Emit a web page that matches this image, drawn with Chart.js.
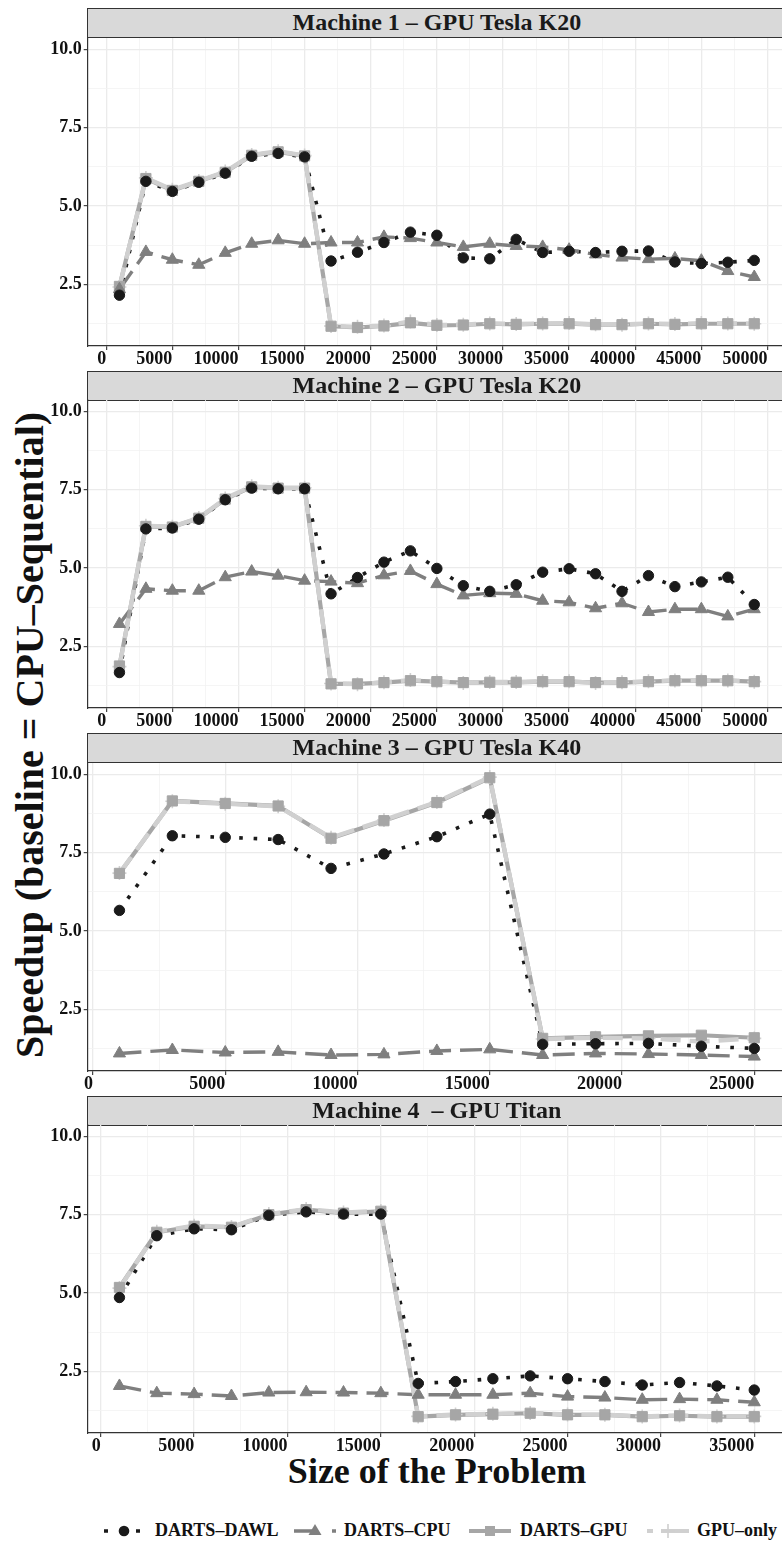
<!DOCTYPE html>
<html><head><meta charset="utf-8">
<script src="https://cdn.jsdelivr.net/npm/chart.js@4.4.1/dist/chart.umd.min.js"></script>
<style>
html,body{margin:0;padding:0;background:#fff;}
body{position:relative;width:782px;height:1543px;overflow:hidden;font-family:"Liberation Serif","Times New Roman",serif;font-weight:bold;color:#111;}
canvas.panel{position:absolute;left:0;}
.strip{position:absolute;left:87.2px;width:720px;height:29.8px;background:#D9D9D9;border:1.2px solid #333;box-sizing:border-box;}
.stext{position:absolute;left:87.7px;width:698.3px;height:29.4px;line-height:29.4px;text-align:center;font-size:24px;color:#1a1a1a;white-space:pre;}
.ytitle{position:absolute;left:-320px;top:715px;width:700px;height:40px;line-height:40px;text-align:center;font-size:40px;transform:rotate(-90deg);white-space:nowrap;}
.xtitle{position:absolute;left:137px;width:600px;top:1453px;height:36px;line-height:36px;text-align:center;font-size:36px;white-space:nowrap;}
.ltext{position:absolute;top:1520px;height:20px;line-height:20px;font-size:18px;white-space:nowrap;}
svg.key{position:absolute;top:1521px;}
</style>
</head><body>

<div class="ytitle">Speedup (baseline = CPU–Sequential)</div>
<div class="xtitle">Size of the Problem</div>

<svg class="key" style="left:104px" width="40" height="20"><line x1="0" y1="10" x2="40" y2="10" stroke="#1a1a1a" stroke-width="3.6" stroke-dasharray="4 12"/><circle cx="20" cy="10" r="5.3" fill="#1a1a1a"/></svg>
<div class="ltext" style="left:155px">DARTS–DAWL</div>
<svg class="key" style="left:294px" width="42" height="20"><line x1="0" y1="10" x2="42" y2="10" stroke="#7f7f7f" stroke-width="3.6" stroke-dasharray="22 16"/><polygon points="21,3 27.5,14 14.5,14" fill="#7f7f7f"/></svg>
<div class="ltext" style="left:344px">DARTS–CPU</div>
<svg class="key" style="left:469px" width="42" height="20"><line x1="0" y1="10" x2="42" y2="10" stroke="#a6a6a6" stroke-width="4"/><rect x="16" y="5" width="10" height="10" fill="#a6a6a6"/></svg>
<div class="ltext" style="left:520px">DARTS–GPU</div>
<svg class="key" style="left:647px" width="42" height="20"><line x1="0" y1="10" x2="42" y2="10" stroke="#d0d0d0" stroke-width="4" stroke-dasharray="6 8 40 0"/><line x1="21" y1="3" x2="21" y2="17" stroke="#cfcfcf" stroke-width="1.6"/><line x1="14" y1="10" x2="28" y2="10" stroke="#cfcfcf" stroke-width="1.6"/></svg>
<div class="ltext" style="left:697px">GPU–only</div>

<script>
// ---------------- data ----------------
const panelTitles = ["Machine 1 – GPU Tesla K20", "Machine 2 – GPU Tesla K20", "Machine 3 – GPU Tesla K40", "Machine 4  – GPU Titan"];
const seriesNames = ["DARTS–DAWL", "DARTS–CPU", "DARTS–GPU", "GPU–only"];

const sizesA = [1000,3000,5000,7000,9000,11000,13000,15000,17000,19000,21000,23000,25000,27000,29000,31000,33000,35000,37000,39000,41000,43000,45000,47000,49000];
const sizesB = [1000,3000,5000,7000,9000,11000,13000,15000,17000,19000,21000,23000,25000];
const sizesC = [1000,3000,5000,7000,9000,11000,13000,15000,17000,19000,21000,23000,25000,27000,29000,31000,33000,35000];

const m1Dawl    = [2.16,5.79,5.47,5.76,6.05,6.59,6.68,6.57,3.25,3.53,3.84,4.17,4.07,3.35,3.32,3.94,3.52,3.56,3.52,3.56,3.57,3.22,3.17,3.21,3.27];
const m1Cpu     = [2.35,3.54,3.29,3.13,3.51,3.80,3.91,3.80,3.84,3.84,4.02,3.98,3.84,3.70,3.80,3.73,3.70,3.61,3.46,3.36,3.31,3.33,3.26,2.93,2.74];
const m1Gpu     = [2.44,5.88,5.50,5.79,6.08,6.62,6.73,6.60,1.17,1.13,1.18,1.28,1.20,1.21,1.25,1.23,1.25,1.25,1.22,1.22,1.25,1.23,1.25,1.25,1.25];
const m1GpuOnly = [2.42,5.90,5.52,5.80,6.10,6.63,6.75,6.61,1.18,1.15,1.19,1.32,1.21,1.22,1.26,1.24,1.26,1.27,1.23,1.22,1.26,1.24,1.27,1.26,1.25];

const m2Dawl    = [1.67,6.25,6.28,6.56,7.18,7.55,7.53,7.53,4.18,4.70,5.19,5.55,4.99,4.44,4.26,4.47,4.87,4.98,4.82,4.26,4.76,4.41,4.56,4.71,3.84];
const m2Cpu     = [3.22,4.34,4.28,4.28,4.71,4.89,4.76,4.60,4.57,4.52,4.77,4.91,4.49,4.13,4.20,4.18,3.96,3.91,3.72,3.88,3.60,3.69,3.69,3.46,3.69];
const m2Gpu     = [1.88,6.33,6.31,6.59,7.20,7.59,7.55,7.55,1.31,1.31,1.35,1.41,1.38,1.35,1.36,1.36,1.38,1.38,1.35,1.35,1.38,1.41,1.41,1.41,1.38];
const m2GpuOnly = [1.86,6.35,6.32,6.60,7.22,7.61,7.56,7.56,1.32,1.30,1.36,1.43,1.39,1.34,1.37,1.37,1.39,1.39,1.34,1.36,1.39,1.42,1.42,1.42,1.38];

const m3Dawl    = [5.66,8.04,7.99,7.92,7.00,7.46,8.01,8.73,1.39,1.41,1.42,1.33,1.26];
const m3Cpu     = [1.10,1.21,1.13,1.15,1.05,1.07,1.18,1.23,1.05,1.10,1.08,1.05,1.00];
const m3Gpu     = [6.84,9.15,9.07,8.99,7.96,8.52,9.10,9.89,1.58,1.63,1.66,1.68,1.60];
const m3GpuOnly = [6.85,9.14,9.06,8.98,7.98,8.54,9.12,9.91,1.56,1.60,1.58,1.48,1.58];

const m4Dawl    = [4.86,6.83,7.05,7.02,7.48,7.59,7.52,7.52,2.12,2.18,2.27,2.36,2.27,2.18,2.07,2.15,2.04,1.91];
const m4Cpu     = [2.04,1.81,1.78,1.72,1.83,1.84,1.83,1.81,1.76,1.76,1.76,1.81,1.70,1.67,1.60,1.62,1.60,1.52];
const m4Gpu     = [5.18,6.94,7.13,7.10,7.50,7.66,7.55,7.61,1.06,1.12,1.14,1.17,1.12,1.12,1.06,1.09,1.06,1.06];
const m4GpuOnly = [5.16,6.96,7.15,7.11,7.52,7.68,7.57,7.62,1.07,1.13,1.15,1.18,1.13,1.12,1.07,1.10,1.07,1.07];

const yTicks = [1.25,2.5,3.75,5,6.25,7.5,8.75,10];
const yMajorLabels = ["2.5","5.0","7.5","10.0"];

// ---------------- layout ----------------
const panels = [
  {title: panelTitles[0], xs: sizesA, s:[m1Dawl,m1Cpu,m1Gpu,m1GpuOnly], xmin:-1400, xmax:51400, xmaxTick:50000, top:37.7},
  {title: panelTitles[1], xs: sizesA, s:[m2Dawl,m2Cpu,m2Gpu,m2GpuOnly], xmin:-1400, xmax:51400, xmaxTick:50000, top:400.2},
  {title: panelTitles[2], xs: sizesB, s:[m3Dawl,m3Cpu,m3Gpu,m3GpuOnly], xmin:-200, xmax:26200, xmaxTick:25000, top:762.7},
  {title: panelTitles[3], xs: sizesC, s:[m4Dawl,m4Cpu,m4Gpu,m4GpuOnly], xmin:-700, xmax:36700, xmaxTick:35000, top:1125.2}
];
const PLOT_H = 308, PAD_T = 10, XAX_H = 30, CW = 800;
const FONT = "'Liberation Serif','Times New Roman',serif";

const styles = [
  {color:'#1a1a1a', width:3.6, dash:[3.6,10.8], point:'circle', r:5.2, pw:1},
  {color:'#7f7f7f', width:3.4, dash:[22,9], point:'triangle', r:7, pw:1},
  {color:'#a6a6a6', width:4.2, dash:[], point:'rect', r:7.2, pw:1},
  {color:'#d0d0d0', width:4.4, dash:[20,9], point:'cross', r:7, pw:1.6}
];
const lineOrder = [8,7,6,5];
const pointOrder = [1,2,3,4];

function pts(xs, ys){ return xs.map((x,i)=>({x:x, y:ys[i]})); }
function isMajorY(v){ return Math.abs(v/2.5 - Math.round(v/2.5)) < 1e-6; }

panels.forEach((p, idx) => {
  const strip = document.createElement('div');
  strip.className = 'strip';
  strip.style.top = (p.top - 29.4) + 'px';
  document.body.appendChild(strip);
  const st = document.createElement('div');
  st.className = 'stext';
  st.style.top = (p.top - 29.4) + 'px';
  st.textContent = p.title;
  document.body.appendChild(st);

  const cv = document.createElement('canvas');
  cv.className = 'panel';
  cv.width = CW; cv.height = PAD_T + PLOT_H + XAX_H;
  cv.style.width = CW + 'px'; cv.style.height = (PAD_T + PLOT_H + XAX_H) + 'px';
  cv.style.top = (p.top - PAD_T) + 'px';
  document.body.appendChild(cv);

  const datasets = [];
  p.s.forEach((ys, k) => {
    const st = styles[k];
    datasets.push({
      label: seriesNames[k], data: pts(p.xs, ys), order: lineOrder[k],
      borderColor: st.color, borderWidth: st.width, borderDash: st.dash,
      borderCapStyle:'butt', borderJoinStyle:'round', tension:0, fill:false,
      pointRadius:0, pointHoverRadius:0, showLine:true
    });
  });
  p.s.forEach((ys, k) => {
    const st = styles[k];
    datasets.push({
      label: seriesNames[k] + ' points', data: pts(p.xs, ys), order: pointOrder[k],
      showLine:false, pointStyle: st.point, pointRadius: st.r, pointHoverRadius: st.r,
      pointBackgroundColor: st.color, pointBorderColor: st.color, pointBorderWidth: st.pw,
      borderColor: st.color, backgroundColor: st.color
    });
  });

  const xTickVals = [];
  for (let v = 0; v <= p.xmaxTick; v += 2500) xTickVals.push(v);

  new Chart(cv, {
    type: 'line',
    data: { datasets },
    options: {
      responsive:false, animation:false, devicePixelRatio:1,
      layout:{ padding:{top:PAD_T, right:CW-786, bottom:0, left:0} },
      plugins:{ legend:{display:false}, tooltip:{enabled:false} },
      events: [],
      scales:{
        x:{
          type:'linear', min:p.xmin, max:p.xmax,
          afterBuildTicks:(s)=>{ s.ticks = xTickVals.map(v=>({value:v})); },
          afterFit:(s)=>{ s.height = XAX_H; s.paddingLeft = 0; s.paddingRight = 0; },
          grid:{
            color:(c)=> (c.tick && c.tick.value % 5000 === 0) ? '#ebebeb' : '#f3f3f3',
            lineWidth:(c)=> (c.tick && c.tick.value % 5000 === 0) ? 1.3 : 0.8,
            tickColor:(c)=> (c.tick && c.tick.value % 5000 === 0) ? '#333' : 'rgba(0,0,0,0)',
            tickLength:4, tickWidth:1.1, drawTicks:true
          },
          border:{display:true, color:'#333', width:1.2},
          ticks:{
            autoSkip:false, maxRotation:0, minRotation:0, align:'end', padding:0,
            color:'#111', font:{family:FONT, size:18, weight:'bold', lineHeight:1},
            callback:(v)=> (v % 5000 === 0) ? String(v) : ''
          }
        },
        y:{
          type:'linear', min:0.54, max:10.36,
          afterBuildTicks:(s)=>{ s.ticks = yTicks.map(v=>({value:v})); },
          afterFit:(s)=>{ s.width = 87.7; s.paddingTop = 0; s.paddingBottom = 0; },
          grid:{
            color:(c)=> (c.tick && isMajorY(c.tick.value)) ? '#ebebeb' : '#f3f3f3',
            lineWidth:(c)=> (c.tick && isMajorY(c.tick.value)) ? 1.3 : 0.8,
            tickColor:(c)=> (c.tick && isMajorY(c.tick.value)) ? '#333' : 'rgba(0,0,0,0)',
            tickLength:4, tickWidth:1.1, drawTicks:true
          },
          border:{display:true, color:'#333', width:1.2},
          ticks:{
            autoSkip:false, padding:2, color:'#111',
            font:{family:FONT, size:18, weight:'bold'},
            callback:(v)=> isMajorY(v) ? yMajorLabels[Math.round(v/2.5)-1] : ''
          }
        }
      }
    }
  });
});
</script>
</body></html>
